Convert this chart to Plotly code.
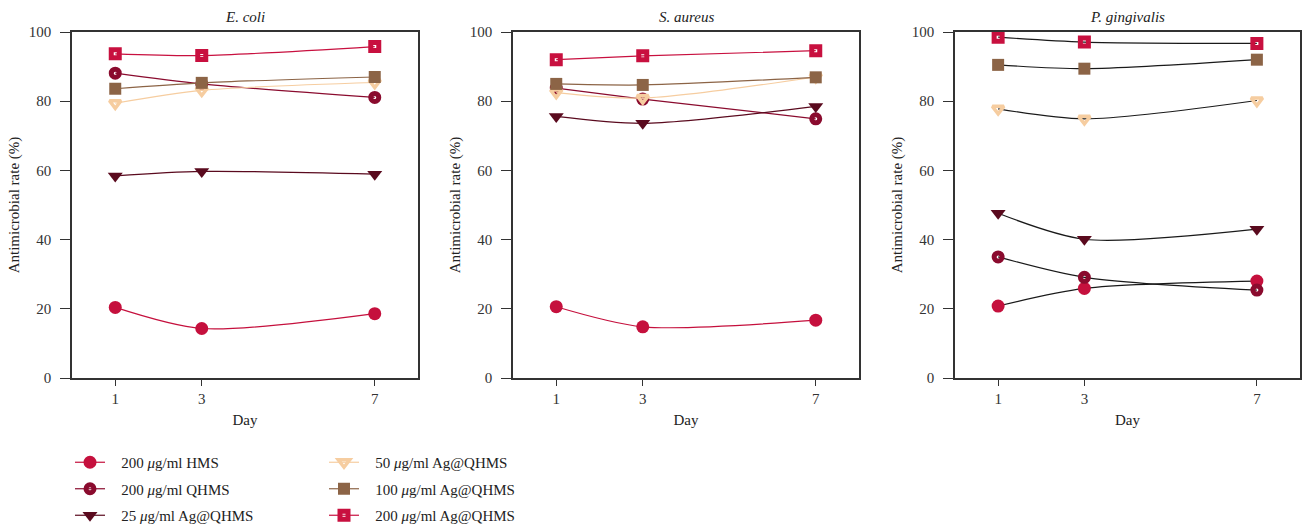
import plotly.graph_objects as go

days = [1, 3, 7]
panels = ["E. coli", "S. aureus", "P. gingivalis"]
series_names = [
    "200 <i>μ</i>g/ml HMS",
    "200 <i>μ</i>g/ml QHMS",
    "25 <i>μ</i>g/ml Ag@QHMS",
    "50 <i>μ</i>g/ml Ag@QHMS",
    "100 <i>μ</i>g/ml Ag@QHMS",
    "200 <i>μ</i>g/ml Ag@QHMS",
]

ecoli_hms = [20.4, 14.3, 18.6]
ecoli_qhms = [88.1, 85.0, 81.1]
ecoli_ag25 = [58.4, 59.7, 58.9]
ecoli_ag50 = [79.4, 83.1, 85.4]
ecoli_ag100 = [83.6, 85.3, 87.0]
ecoli_ag200 = [93.7, 93.2, 95.8]

saureus_hms = [20.6, 14.8, 16.7]
saureus_qhms = [83.8, 80.6, 74.9]
saureus_ag25 = [75.6, 73.6, 78.5]
saureus_ag50 = [82.5, 80.9, 87.0]
saureus_ag100 = [85.0, 84.7, 86.9]
saureus_ag200 = [92.0, 93.1, 94.6]

pging_hms = [20.8, 25.9, 28.0]
pging_qhms = [35.0, 29.1, 25.4]
pging_ag25 = [47.6, 40.1, 43.0]
pging_ag50 = [77.8, 74.9, 80.2]
pging_ag100 = [90.5, 89.4, 92.0]
pging_ag200 = [98.5, 97.1, 96.7]

data = [
    [ecoli_hms, ecoli_qhms, ecoli_ag25, ecoli_ag50, ecoli_ag100, ecoli_ag200],
    [saureus_hms, saureus_qhms, saureus_ag25, saureus_ag50, saureus_ag100, saureus_ag200],
    [pging_hms, pging_qhms, pging_ag25, pging_ag50, pging_ag100, pging_ag200],
]

colors = ["#C5103D", "#8A0B2E", "#5A0A1E", "#F6CDA0", "#8C6446", "#C8103F"]
symbols = ["circle", "circle-open", "triangle-down", "triangle-down-open", "square", "square-open"]
msizes = [13, 8, 13, 10, 12, 8]
mlw = [0, 5, 0, 3.5, 0, 5]
legends = ["legend", "legend", "legend", "legend2", "legend2", "legend2"]

W, H = 1302, 529
FONT = "Liberation Serif"
FS = 15
PAD = "\u00a0\u00a0\u00a0"
x_domains = [(72, 418), (513, 859), (955, 1300)]
y_top, y_bot = 32, 378

fig = go.Figure()
for p in range(3):
    xa = "x" if p == 0 else f"x{p+1}"
    ya = "y" if p == 0 else f"y{p+1}"
    for s in range(6):
        line_col = colors[s] if p < 2 else "#1a1a1a"
        fig.add_trace(go.Scatter(
            x=days, y=data[p][s], mode="lines+markers",
            name=PAD + series_names[s], legendgroup=f"g{s}", legend=legends[s],
            showlegend=(p == 0),
            line=dict(color=line_col, width=1.2, shape="spline", smoothing=0.8),
            marker=dict(symbol=symbols[s], size=msizes[s], color=colors[s],
                        line=dict(width=mlw[s], color=colors[s])),
            xaxis=xa, yaxis=ya, cliponaxis=False,
        ))

leg_common = dict(yanchor="bottom", y=-3 / H, xanchor="left", orientation="v",
                  tracegroupgap=4, font=dict(size=FS, family=FONT, color="#222"),
                  bgcolor="rgba(0,0,0,0)", borderwidth=0)
layout = dict(
    width=W, height=H, margin=dict(l=0, r=0, t=0, b=0, autoexpand=False),
    paper_bgcolor="white", plot_bgcolor="white",
    font=dict(family=FONT, size=FS, color="#333"),
    showlegend=True,
    legend=dict(x=70 / W, **leg_common),
    legend2=dict(x=324 / W, **leg_common),
)
annotations = []
for p in range(3):
    k = "" if p == 0 else str(p + 1)
    x0, x1 = x_domains[p]
    layout[f"xaxis{k}"] = dict(
        domain=[x0 / W, x1 / W], range=[0, 8], tickvals=days, ticktext=[str(d) for d in days],
        showline=True, linecolor="#333", linewidth=1.5, mirror=True,
        ticks="outside", ticklen=6, tickcolor="#333", tickwidth=1.2,
        showgrid=False, zeroline=False, anchor="y" + k,
        title=dict(text="Day", standoff=9, font=dict(size=FS, color="#222")),
        tickfont=dict(size=FS),
    )
    layout[f"yaxis{k}"] = dict(
        domain=[1 - y_bot / H, 1 - y_top / H], range=[0, 100], tickvals=[0, 20, 40, 60, 80, 100],
        showline=True, linecolor="#333", linewidth=1.5, mirror=True,
        ticks="outside", ticklen=10, tickcolor="#333", tickwidth=1.2,
        showgrid=False, zeroline=False, anchor="x" + k,
        title=dict(text="Antimicrobial rate (%)", standoff=6, font=dict(size=FS, color="#222")),
        tickfont=dict(size=FS), ticklabelstandoff=6,
    )
    annotations.append(dict(
        text=f"<i>{panels[p]}</i>", x=(x0 + x1) / 2 / W, y=1 - 17 / H,
        xref="paper", yref="paper", showarrow=False, font=dict(size=FS, family=FONT, color="#222"),
        xanchor="center", yanchor="middle",
    ))
layout["annotations"] = annotations
fig.update_layout(**layout)
fig.write_html("out.html", config={"displayModeBar": False},
               post_script="document.body.style.margin='0';document.body.style.overflow='hidden';")
